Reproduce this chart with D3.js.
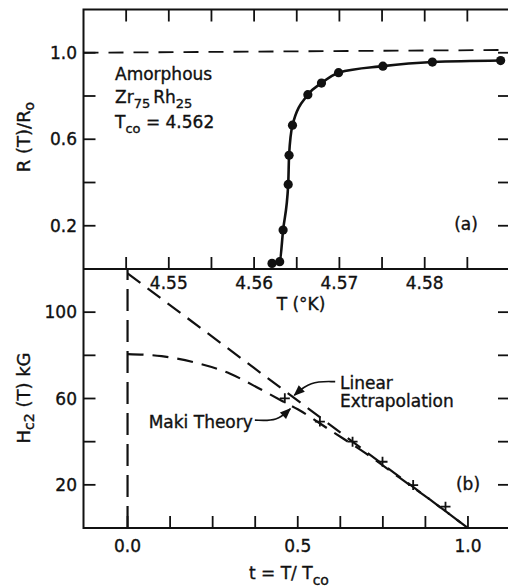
<!DOCTYPE html>
<html>
<head>
<meta charset="utf-8">
<script src="https://cdn.jsdelivr.net/npm/d3@7"></script>
<style>
  html, body { margin: 0; padding: 0; background: #fff; }
  svg text { font-family: "DejaVu Sans", sans-serif; fill: #111; stroke: #111; stroke-width: 0.35px; }
</style>
</head>
<body>
<svg id="chart" width="508" height="588"></svg>
<script>
// panel (a): resistance ratio vs temperature
const tempK = [4.5621, 4.5630, 4.5634, 4.5640, 4.5641, 4.5645, 4.5663, 4.5679, 4.5699, 4.5751, 4.5809, 4.5889];
const resRatio = [0.026, 0.034, 0.18, 0.391, 0.526, 0.665, 0.806, 0.860, 0.908, 0.938, 0.957, 0.964];
const normalLevel = [[4.54, 1.0], [4.59, 1.013]];
const tempTicks = [4.545, 4.55, 4.555, 4.56, 4.565, 4.57, 4.575, 4.58, 4.585];
const tempLabels = [4.55, 4.56, 4.57, 4.58];
const resTicks = [0.2, 0.4, 0.6, 0.8, 1.0];
const resLabels = [0.2, 0.6, 1.0];

// panel (b): upper critical field vs reduced temperature
const redT = [0.462, 0.565, 0.661, 0.749, 0.839, 0.934];
const hc2 = [60.1, 49.3, 40.0, 30.7, 19.9, 9.9];
const linearT = [0, 1];
const linearH = [118, 0];
const makiT = [0, 0.1, 0.2, 0.3, 0.368, 0.45, 0.5, 0.6, 0.7, 0.8, 0.9, 1.0];
const makiH = [80.6, 79.6, 76.6, 71.6, 66.2, 59.2, 55.0, 44.8, 34.6, 23.2, 11.8, 0];
const redTicks = [0, 0.125, 0.25, 0.375, 0.5, 0.625, 0.75, 0.875, 1.0];
const redLabels = [0, 0.5, 1.0];
const hTicks = [20, 40, 60, 80, 100];
const hLabels = [20, 60, 100];

const svg = d3.select("#chart");
const frameL = 83.5, frameR = 510, frameT = 9.5, frameMid = 269, frameB = 528;
const tickLen = 12;

const xT = d3.scaleLinear().domain([4.54, 4.59]).range([frameL, frameR]);
const yR = d3.scaleLinear().domain([0, 1.2]).range([frameMid, frameT]);
const xt = d3.scaleLinear().domain([-0.1294, 1.1235]).range([frameL, frameR]);
const yH = d3.scaleLinear().domain([0, 120]).range([frameB, frameMid]);

const ink = "#111";

// frame and divider
svg.append("rect")
  .attr("x", frameL).attr("y", frameT)
  .attr("width", frameR - frameL).attr("height", frameB - frameT)
  .attr("fill", "none").attr("stroke", ink).attr("stroke-width", 2);
svg.append("line")
  .attr("x1", frameL).attr("x2", frameR).attr("y1", frameMid).attr("y2", frameMid)
  .attr("stroke", ink).attr("stroke-width", 2);

const ticks = svg.append("g").attr("stroke", ink).attr("stroke-width", 1.8);

function vTicks(scale, values, y0, dir) {
  ticks.append("g").selectAll("line").data(values).join("line")
    .attr("x1", d => scale(d)).attr("x2", d => scale(d))
    .attr("y1", y0).attr("y2", y0 + dir * tickLen);
}
function sideTicks(scale, values) {
  ticks.append("g").selectAll("line").data(values).join("line")
    .attr("x1", frameL).attr("x2", frameL + tickLen)
    .attr("y1", d => scale(d)).attr("y2", d => scale(d));
  ticks.append("g").selectAll("line").data(values).join("line")
    .attr("x1", frameR).attr("x2", frameR - tickLen)
    .attr("y1", d => scale(d)).attr("y2", d => scale(d));
}

vTicks(xT, tempTicks, frameT, 1);
vTicks(xT, tempTicks, frameMid, -1);
vTicks(xt, redTicks, frameB, -1);
sideTicks(yR, resTicks);
sideTicks(yH, hTicks);

// tick labels
const fs = 17;
svg.append("g").selectAll("text").data(tempLabels).join("text")
  .attr("x", d => xT(d)).attr("y", 289)
  .attr("text-anchor", "middle").attr("font-size", fs)
  .text(d => d.toFixed(2));
svg.append("g").selectAll("text").data(redLabels).join("text")
  .attr("x", d => xt(d)).attr("y", 552)
  .attr("text-anchor", "middle").attr("font-size", fs)
  .text(d => d.toFixed(1));
svg.append("g").selectAll("text").data(resLabels).join("text")
  .attr("x", 77).attr("y", d => yR(d) + 6)
  .attr("text-anchor", "end").attr("font-size", fs)
  .text(d => d.toFixed(1));
svg.append("g").selectAll("text").data(hLabels).join("text")
  .attr("x", 77).attr("y", d => yH(d) + 6)
  .attr("text-anchor", "end").attr("font-size", fs)
  .text(d => d);

// axis titles
const rTitle = svg.append("text")
  .attr("transform", "translate(30,137) rotate(-90)")
  .attr("text-anchor", "middle").attr("font-size", 18);
rTitle.append("tspan").text("R (T)/R");
rTitle.append("tspan").attr("font-size", 14).attr("dy", 4).text("o");

const hTitle = svg.append("text")
  .attr("transform", "translate(30,398) rotate(-90)")
  .attr("text-anchor", "middle").attr("font-size", 18);
hTitle.append("tspan").text("H");
hTitle.append("tspan").attr("font-size", 14).attr("dy", 4).text("c2");
hTitle.append("tspan").attr("dy", -4).text("  (T)  kG");

svg.append("text")
  .attr("x", 301).attr("y", 310)
  .attr("text-anchor", "middle").attr("font-size", fs)
  .text("T (°K)");

const tTitle = svg.append("text")
  .attr("x", 249).attr("y", 579).attr("font-size", fs);
tTitle.append("tspan").text("t  =  T/ T");
tTitle.append("tspan").attr("font-size", 14).attr("dy", 6).text("co");

// panel (a) annotation
svg.append("text").attr("x", 115).attr("y", 80).attr("font-size", fs).text("Amorphous");
const alloy = svg.append("text").attr("x", 115).attr("y", 103).attr("font-size", fs);
alloy.append("tspan").text("Zr");
alloy.append("tspan").attr("font-size", 13).attr("dy", 5).text("75");
alloy.append("tspan").attr("dy", -5).attr("dx", 3).text("Rh");
alloy.append("tspan").attr("font-size", 13).attr("dy", 5).text("25");
const tco = svg.append("text").attr("x", 115).attr("y", 128).attr("font-size", fs);
tco.append("tspan").text("T");
tco.append("tspan").attr("font-size", 13).attr("dy", 5).text("co");
tco.append("tspan").attr("dy", -5).text(" = 4.562");

svg.append("text").attr("x", 466).attr("y", 230)
  .attr("text-anchor", "middle").attr("font-size", fs).text("(a)");
svg.append("text").attr("x", 468).attr("y", 490)
  .attr("text-anchor", "middle").attr("font-size", fs).text("(b)");

// panel (a) data
svg.append("path")
  .datum(normalLevel)
  .attr("d", d3.line().x(d => xT(d[0])).y(d => yR(d[1])))
  .attr("fill", "none").attr("stroke", ink).attr("stroke-width", 1.8)
  .attr("stroke-dasharray", "15,10");

const rPts = tempK.map((T, i) => [T, resRatio[i]]);
svg.append("path")
  .datum(rPts)
  .attr("d", d3.line().x(d => xT(d[0])).y(d => yR(d[1])).curve(d3.curveMonotoneX))
  .attr("fill", "none").attr("stroke", ink).attr("stroke-width", 2.6);
svg.append("g").selectAll("circle").data(rPts).join("circle")
  .attr("cx", d => xT(d[0])).attr("cy", d => yR(d[1])).attr("r", 4.6)
  .attr("fill", ink);

// panel (b) lines
const dashed = (pts, dash) => svg.append("path")
  .datum(pts)
  .attr("d", d3.line().x(d => xt(d[0])).y(d => yH(d[1])).curve(d3.curveMonotoneX))
  .attr("fill", "none").attr("stroke", ink).attr("stroke-width", 2.2)
  .attr("stroke-dasharray", dash);

dashed([[0, 0], [0, 120]], "22,9");
dashed(linearT.map((t, i) => [t, linearH[i]]), "16,9");
dashed(makiT.map((t, i) => [t, makiH[i]]), "16,9");

const crossSize = 5;
svg.append("g").attr("stroke", ink).attr("stroke-width", 1.8)
  .selectAll("path").data(redT.map((t, i) => [t, hc2[i]])).join("path")
  .attr("d", d => {
    const x = xt(d[0]), y = yH(d[1]);
    return `M${x - crossSize},${y}H${x + crossSize}M${x},${y - crossSize}V${y + crossSize}`;
  });

// annotations with arrows
svg.append("defs").append("marker")
  .attr("id", "arrow").attr("viewBox", "0 0 10 10")
  .attr("refX", 9).attr("refY", 5)
  .attr("markerWidth", 9).attr("markerHeight", 7)
  .attr("orient", "auto")
  .append("path").attr("d", "M0,1L10,5L0,9Z").attr("fill", ink);

const arrowLine = d3.line().x(d => xt(d[0])).y(d => yH(d[1])).curve(d3.curveBasis);
svg.append("path")
  .datum([[0.374, 50.0], [0.44, 49.5], [0.478, 55.2]])
  .attr("d", arrowLine)
  .attr("fill", "none").attr("stroke", ink).attr("stroke-width", 1.6)
  .attr("marker-end", "url(#arrow)");
svg.append("path")
  .datum([[0.61, 67.8], [0.535, 68.0], [0.49, 61.5]])
  .attr("d", arrowLine)
  .attr("fill", "none").attr("stroke", ink).attr("stroke-width", 1.6)
  .attr("marker-end", "url(#arrow)");

svg.append("text").attr("x", xt(0.368)).attr("y", yH(46.3))
  .attr("text-anchor", "end").attr("font-size", fs).text("Maki Theory");
svg.append("text").attr("x", xt(0.624)).attr("y", yH(64.4))
  .attr("font-size", fs).text("Linear");
svg.append("text").attr("x", xt(0.624)).attr("y", yH(56))
  .attr("font-size", fs).text("Extrapolation");
</script>
</body>
</html>
